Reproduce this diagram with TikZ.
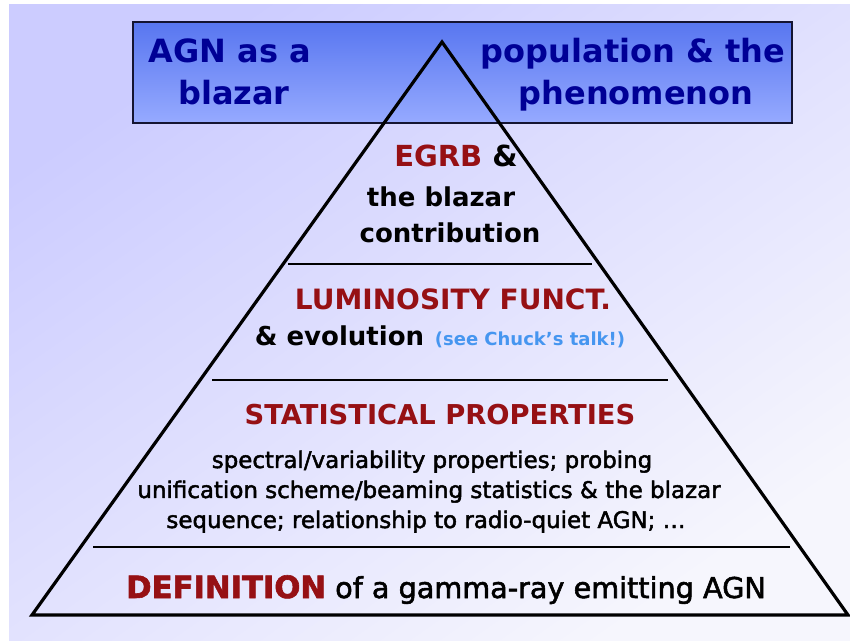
\documentclass[tikz,border=0pt]{standalone}
\usepackage{fontspec}
\setmainfont{DejaVu Sans}
\newfontfamily\medfont[FakeBold=2]{DejaVu Sans}
\usepackage{xcolor}
\usepackage{tikz}
\usetikzlibrary{positioning}
\definecolor{navy}{RGB}{0,0,150}
\definecolor{darkred}{RGB}{150,16,20}
\definecolor{talkblue}{RGB}{70,150,240}
\definecolor{boxtop}{RGB}{88,118,240}
\definecolor{boxbot}{RGB}{150,170,255}
\definecolor{boxline}{RGB}{20,20,50}
\definecolor{bgdark}{RGB}{204,204,255}
\definecolor{bglight}{RGB}{246,246,253}
\tikzstyle{banner} = [rectangle, 
minimum width=494.25pt, 
minimum height=75.75pt, 
inner sep=0pt,
draw=boxline, 
line width=1.5pt,
top color=boxtop, 
bottom color=boxbot]
\tikzstyle{title} = [anchor=base, 
text=navy, 
font=\bfseries\fontsize{24}{28}\selectfont]
\tikzstyle{head} = [anchor=base, 
text=darkred, 
font=\bfseries\fontsize{21}{25}\selectfont]
\tikzstyle{plain} = [anchor=base, 
font=\bfseries\fontsize{19.5}{23}\selectfont]
\tikzstyle{detail} = [anchor=base, 
font=\medfont\fontsize{17.2}{20}\selectfont]
\tikzstyle{edge} = [line width=2.4pt, line join=miter]
\tikzstyle{divider} = [line width=1.5pt]

\begin{document}
\begin{tikzpicture}[x=0.75pt, y=-0.75pt]
\fill[white] (0,0) rectangle (850,641);
\useasboundingbox (0,0) rectangle (850,641);
\shade[top color=bgdark, bottom color=bglight, shading angle=35] (9,5) rectangle (850,641);

\node (top) [banner] at (462.5,72.5) {};
\node (agn) [title] at (230,63) {AGN as a};
\node (blazar) [title] at (234,105) {blazar};
\node (pop) [title] at (633,63) {population \& the};
\node (phen) [title] at (636,105) {phenomenon};

% pyramid and its layers
\coordinate (apex) at (442,42);
\coordinate (baseL) at (32,615);
\coordinate (baseR) at (848,615);
\draw [edge] (apex) -- (baseR) -- (baseL) -- cycle;

\coordinate (d1L) at (288,264);
\coordinate (d1R) at (592,264);
\coordinate (d2L) at (212,380);
\coordinate (d2R) at (668,380);
\coordinate (d3L) at (93,547);
\coordinate (d3R) at (790,547);
\draw [divider] (d1L) -- (d1R);
\draw [divider] (d2L) -- (d2R);
\draw [divider] (d3L) -- (d3R);

\node (egrb) [plain, font=\bfseries\fontsize{21.75}{25}\selectfont] at (456,167) {\textcolor{darkred}{EGRB} \&};
\node (theblz) [plain] at (441,207) {the blazar};
\node (contrib) [plain] at (450,243) {contribution};

\node (lum) [head] at (453,310) {LUMINOSITY FUNCT.};
\node (evol) [plain] at (440,346) {\& evolution\hspace{8pt}{\color{talkblue}\fontsize{13.5}{16}\selectfont(see Chuck’s talk!)}};

\node (stat) [head, font=\bfseries\fontsize{20.5}{24}\selectfont] at (440,425) {STATISTICAL PROPERTIES};
\node (spec) [detail] at (432,468) {spectral/variability properties; probing};
\node (unif) [detail] at (429,498) {unification scheme/beaming statistics \& the blazar};
\node (seq) [detail] at (426,528) {sequence; relationship to radio-quiet AGN; …};

\node (defn) [detail, font=\medfont\fontsize{21.5}{25}\selectfont] at (446,598) {{\color{darkred}\bfseries\fontsize{23}{27}\selectfont DEFINITION} of a gamma-ray emitting AGN};

\end{tikzpicture}
\end{document}
